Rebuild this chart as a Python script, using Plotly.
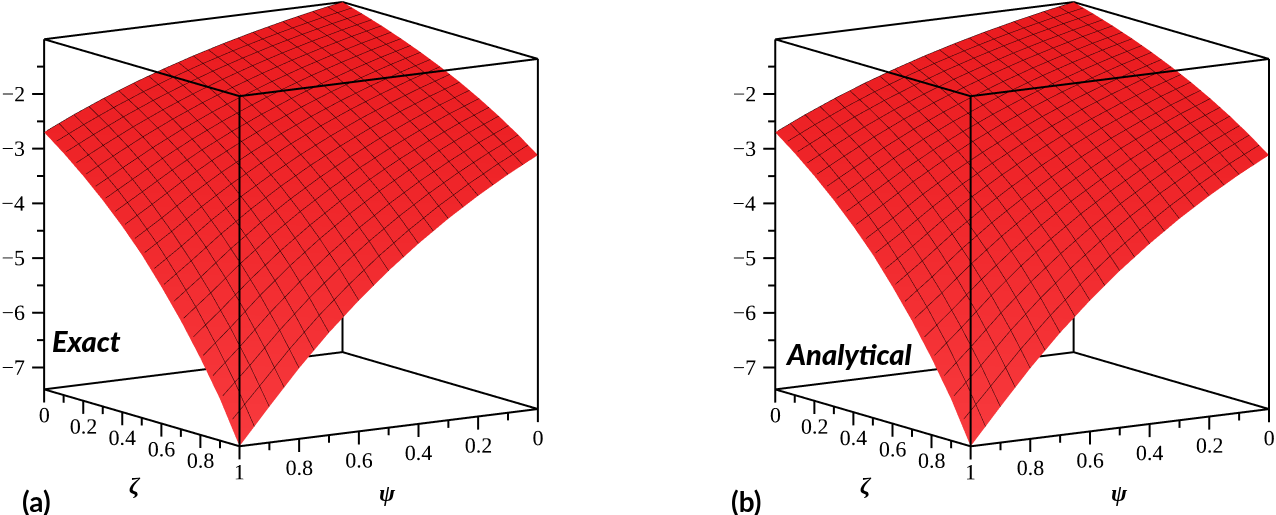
import numpy as np
import plotly.graph_objects as go

psi = [0, .1, .2, .3, .4, .5, .6, .7, .8, .9, 1]
zeta = [0, .1, .2, .3, .4, .5, .6, .7, .8, .9, 1]
# rows: psi, columns: zeta
w_rows = [
 [1.000,1.107,1.225,1.356,1.501,1.661,1.838,2.035,2.252,2.492,2.759],
 [1.104,1.222,1.352,1.497,1.657,1.834,2.030,2.246,2.486,2.752,3.046],
 [1.220,1.350,1.495,1.654,1.831,2.026,2.243,2.482,2.747,3.041,3.365],
 [1.347,1.491,1.650,1.826,2.021,2.237,2.476,2.741,3.033,3.357,3.716],
 [1.488,1.647,1.823,2.017,2.233,2.471,2.735,3.027,3.351,3.709,4.105],
 [1.643,1.818,2.013,2.228,2.465,2.729,3.020,3.343,3.700,4.095,4.532],
 [1.815,2.009,2.223,2.461,2.724,3.015,3.336,3.693,4.087,4.524,5.007],
 [2.004,2.218,2.455,2.717,3.007,3.328,3.684,4.077,4.513,4.995,5.528],
 [2.214,2.450,2.712,3.002,3.322,3.677,4.070,4.505,4.986,5.518,6.108],
 [2.445,2.706,2.995,3.315,3.669,4.061,4.495,4.975,5.506,6.094,6.745],
 [2.700,2.980,3.290,3.630,4.005,4.420,4.900,5.420,6.000,6.640,7.400],
]
Z = -np.array(w_rows)
x_major = [0, .2, .4, .6, .8, 1]
x_minor = [.1, .3, .5, .7, .9]
x_labels = ["0", "0.2", "0.4", "0.6", "0.8", "1"]
z_major = [-2, -3, -4, -5, -6, -7]
z_minor = [-1.5, -2.5, -3.5, -4.5, -5.5, -6.5]
z_labels = ["\u22122", "\u22123", "\u22124", "\u22125", "\u22126", "\u22127"]
ZMIN, ZMAX = -7.4, -1.0

DIR = np.array([.55, .84, .195])
K = 3.0
SCALE = 1.385
TICK = dict(family="Liberation Serif", size=22, color="black")
LINE = dict(color="black", width=4)
MESH = dict(show=True, start=0, end=1, size=.05, color="#1e0204", width=5)


def segs(pairs):
    xs, ys, zs = [], [], []
    for a, b in pairs:
        xs += [a[0], b[0], None]
        ys += [a[1], b[1], None]
        zs += [a[2], b[2], None]
    return xs, ys, zs


def add_panel(fig, scene):
    fig.add_trace(go.Surface(
        x=psi, y=zeta, z=Z.T, scene=scene, showscale=False, hoverinfo="skip",
        surfacecolor=Z.T, cmin=ZMIN, cmax=ZMAX,
        colorscale=[[0, "#f83a3e"], [1, "#ea1a1e"]],
        lighting=dict(ambient=1, diffuse=0, specular=0, fresnel=0, roughness=1),
        contours=dict(x=MESH, y=MESH, z=dict(show=False)),
    ))
    c = [(a, b, d) for a in (0, 1) for b in (0, 1) for d in (ZMIN, ZMAX)]
    edges = [(p, q) for i, p in enumerate(c) for q in c[i+1:] if sum(u != v for u, v in zip(p, q)) == 1]
    xs, ys, zs = segs(edges)
    fig.add_trace(go.Scatter3d(x=xs, y=ys, z=zs, mode="lines", line=LINE, scene=scene, hoverinfo="skip", showlegend=False))
    ticks = []
    for v, ln in [(t, .24) for t in x_major] + [(t, .14) for t in x_minor]:
        ticks.append(((v, 1, ZMIN), (v, 1, ZMIN - ln)))
        ticks.append(((1, v, ZMIN), (1, v, ZMIN - ln)))
    for v, ln in [(t, .0336) for t in z_major] + [(t, .02) for t in z_minor]:
        ticks.append(((1, 0, v), (1 + .832 * ln, -.555 * ln, v)))
    xs, ys, zs = segs(ticks)
    fig.add_trace(go.Scatter3d(x=xs, y=ys, z=zs, mode="lines", line=dict(color="black", width=4), scene=scene, hoverinfo="skip", showlegend=False))
    fig.add_trace(go.Scatter3d(x=x_major[:-1], y=[1] * 5, z=[ZMIN - .53] * 5, mode="text", text=x_labels[:-1], textfont=TICK, textposition="middle center", scene=scene, hoverinfo="skip", showlegend=False))
    fig.add_trace(go.Scatter3d(x=[1] * 6, y=x_major, z=[ZMIN - .47] * 6, mode="text", text=x_labels, textfont=TICK, textposition="middle center", scene=scene, hoverinfo="skip", showlegend=False))
    fig.add_trace(go.Scatter3d(x=[1.072] * 6, y=[-.048] * 6, z=z_major, mode="text", text=z_labels, textfont=TICK, textposition="middle center", scene=scene, hoverinfo="skip", showlegend=False))


def scene_layout(dom, shift):
    ax = dict(visible=False, showspikes=False)
    cen = np.array([shift[0], shift[1], -.132])
    eye = cen + K * DIR
    return dict(
        domain=dict(x=dom, y=[0, 1]),
        xaxis=dict(range=[-.2, 1.2], **ax),
        yaxis=dict(range=[-.2, 1.2], **ax),
        zaxis=dict(range=[-8.4, 0], **ax),
        aspectmode="manual",
        aspectratio=dict(x=1.4 * SCALE, y=1.4 * SCALE, z=1.3125 * SCALE),
        camera=dict(projection=dict(type="orthographic"), up=dict(x=0, y=0, z=1),
                    center=dict(x=cen[0], y=cen[1], z=cen[2]),
                    eye=dict(x=eye[0], y=eye[1], z=eye[2])),
        bgcolor="white",
    )


fig = go.Figure()
add_panel(fig, "scene")
add_panel(fig, "scene2")


def note(x, y, text, size, family="Lato", italic=False, weight="bold"):
    return dict(x=x / 1276, y=1 - y / 515, xref="paper", yref="paper", text=text, showarrow=False,
                xanchor="center", yanchor="middle",
                font=dict(family=family, size=size, color="black", style="italic" if italic else "normal", weight=weight))


fig.update_layout(
    width=1276, height=515, margin=dict(l=0, r=0, t=0, b=0), paper_bgcolor="white", showlegend=False,
    scene=scene_layout([0, 582 / 1276], (0, 0)),
    scene2=scene_layout([694 / 1276, 1], (.12, -.08)),
    annotations=[
        note(36, 501, "(a)", 28), note(746, 501, "(b)", 28),
        note(86, 340, "Exact", 29, italic=True, weight=900),
        note(849, 353, "Analytical", 29, italic=True, weight=900),
        note(135, 485, "\u03b6", 24, "Liberation Serif", True),
        note(388, 493, "\u03c8", 24, "Liberation Serif", True),
        note(866, 485, "\u03b6", 24, "Liberation Serif", True),
        note(1119, 493, "\u03c8", 24, "Liberation Serif", True),
    ],
)
fig.write_html("out.html", config=dict(displayModeBar=False),
               post_script="document.body.style.margin='0';document.body.style.overflow='hidden';")
